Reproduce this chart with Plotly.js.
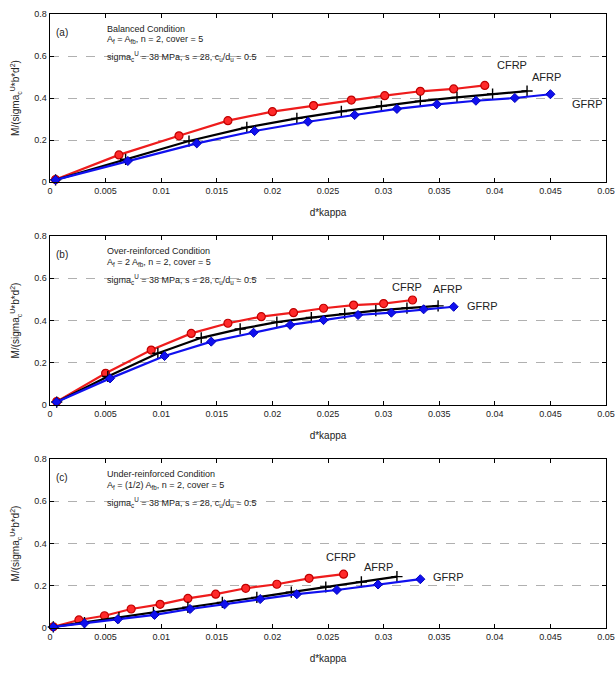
<!DOCTYPE html>
<html>
<head>
<meta charset="utf-8">
<script src="https://cdn.plot.ly/plotly-3.0.1.min.js"></script>
<style>html,body{margin:0;padding:0;background:#fff;}#chart{width:616px;height:677px;}</style>
</head>
<body>
<div id="chart"></div>
<script>
// Panel (a) Balanced
const kappaA_C = [0.0005,0.0062,0.0116,0.0160,0.0200,0.0237,0.0271,0.0301,0.0333,0.0363,0.0391];
const mA_C     = [0.012,0.129,0.220,0.292,0.335,0.364,0.390,0.411,0.432,0.443,0.460];
const kappaA_A = [0.0005,0.0068,0.0125,0.0177,0.0222,0.0262,0.0298,0.0333,0.0366,0.0398,0.0429];
const mA_A     = [0.010,0.108,0.195,0.260,0.303,0.336,0.362,0.385,0.403,0.419,0.433];
const kappaA_G = [0.0005,0.0070,0.0132,0.0184,0.0232,0.0274,0.0312,0.0348,0.0383,0.0418,0.0450];
const mA_G     = [0.010,0.100,0.184,0.243,0.287,0.319,0.348,0.370,0.387,0.400,0.418];
// Panel (b) Over-reinforced
const kappaB_C = [0.0006,0.0050,0.0091,0.0127,0.0160,0.0190,0.0219,0.0246,0.0273,0.0300,0.0326];
const mB_C     = [0.016,0.150,0.260,0.339,0.387,0.418,0.437,0.458,0.473,0.480,0.497];
const kappaB_A = [0.0006,0.0052,0.0097,0.0136,0.0171,0.0204,0.0235,0.0265,0.0293,0.0321,0.0349];
const mB_A     = [0.014,0.135,0.245,0.318,0.360,0.392,0.414,0.432,0.447,0.459,0.469];
const kappaB_G = [0.0006,0.0054,0.0103,0.0145,0.0183,0.0216,0.0246,0.0277,0.0307,0.0336,0.0363];
const mB_G     = [0.014,0.126,0.232,0.300,0.342,0.379,0.402,0.426,0.437,0.453,0.465];
// Panel (c) Under-reinforced
const kappaC_C = [0.0003,0.0026,0.0049,0.0073,0.0099,0.0124,0.0149,0.0176,0.0204,0.0233,0.0264];
const mC_C     = [0.006,0.038,0.058,0.090,0.112,0.140,0.160,0.188,0.207,0.235,0.255];
const kappaC_A = [0.0003,0.0031,0.0062,0.0093,0.0124,0.0155,0.0186,0.0217,0.0248,0.0280,0.0312];
const mC_A     = [0.005,0.026,0.049,0.073,0.098,0.121,0.145,0.170,0.194,0.218,0.243];
const kappaC_G = [0.0003,0.0031,0.0061,0.0094,0.0126,0.0157,0.0189,0.0222,0.0258,0.0295,0.0333];
const mC_G     = [0.005,0.022,0.041,0.062,0.090,0.112,0.137,0.160,0.180,0.206,0.231];

const xTickVals = [0,0.005,0.01,0.015,0.02,0.025,0.03,0.035,0.04,0.045,0.05];
const xTickText = ['0','0.005','0.01','0.015','0.02','0.025','0.03','0.035','0.04','0.045','0.05'];
const yTickVals = [0,0.2,0.4,0.6,0.8];
const yTickText = ['0','0.2','0.4','0.6','0.8'];

const panelLabels = ['(a)','(b)','(c)'];
const conditions = ['Balanced Condition','Over-reinforced Condition','Under-reinforced Condition'];
const areaLines = [
  'A<sub>f</sub> = A<sub>fb</sub>, n = 2, cover = 5',
  'A<sub>f</sub> = 2 A<sub>fb</sub>, n = 2, cover = 5',
  'A<sub>f</sub> = (1/2) A<sub>fb</sub>, n = 2, cover = 5'
];
const paramLine = 'sigma<sub>c</sub><sup>U</sup> = 38 MPa, s = 28, c<sub>u</sub>/d<sub>u</sub> = 0.5';
const materials = ['CFRP','AFRP','GFRP'];

const panels = [
  {C:[kappaA_C,mA_C], A:[kappaA_A,mA_A], G:[kappaA_G,mA_G],
   lab:{C:[0.0400,0.557], A:[0.0432,0.500], G:[0.0468,0.371]}},
  {C:[kappaB_C,mB_C], A:[kappaB_A,mB_A], G:[kappaB_G,mB_G],
   lab:{C:[0.0306,0.560], A:[0.0343,0.549], G:[0.0373,0.469]}},
  {C:[kappaC_C,mC_C], A:[kappaC_A,mC_A], G:[kappaC_G,mC_G],
   lab:{C:[0.0246,0.337], A:[0.0281,0.290], G:[0.0343,0.243]}}
];

const H = 677;
const tops = [14,236,459], bots = [182,405,628];
const font = {family:'Arial, Liberation Sans, sans-serif', size:9, color:'#222'};
const titleFont = {family:'Arial, Liberation Sans, sans-serif', size:10, color:'#222'};

const traces = [];
const annotations = [];
const layout = {
  width:616, height:677,
  margin:{l:50,r:10,t:0,b:0},
  paper_bgcolor:'#fff', plot_bgcolor:'#fff',
  showlegend:false, font:font
};

panels.forEach((p,i)=>{
  const sx = i===0?'':String(i+1);
  const xa = 'x'+sx, ya = 'y'+sx;
  const styles = {
    C:{color:'#ee1c1c', marker:{symbol:'circle', size:8, color:'#ff2a2a', line:{color:'#c00000',width:1.2}}},
    A:{color:'black', marker:{symbol:'cross-thin', size:8, color:'black', line:{color:'black',width:1.4}}},
    G:{color:'#1010ee', marker:{symbol:'diamond', size:7, color:'#1010ee', line:{color:'#0000c0',width:1}}}
  };
  ['C','A','G'].forEach(k=>{
    traces.push({
      x:p[k][0], y:p[k][1], xaxis:xa, yaxis:ya, type:'scatter', mode:'lines+markers',
      line:{color:styles[k].color, width:2.2}, marker:styles[k].marker, cliponaxis:false
    });
  });
  const dom = [1-bots[i]/H, 1-tops[i]/H];
  layout['xaxis'+sx] = {
    domain:[0,1], anchor:ya, range:[0,0.05], tickvals:xTickVals, ticktext:xTickText,
    ticks:'inside', ticklen:4, tickcolor:'#000', showline:true, linecolor:'#000', linewidth:1.4,
    mirror:'ticks', showgrid:false, zeroline:false, tickfont:font,
    title:{text:'d*kappa', font:titleFont, standoff:13}
  };
  layout['yaxis'+sx] = {
    domain:dom, anchor:xa, range:[0,0.8], tickvals:yTickVals, ticktext:yTickText,
    ticks:'inside', ticklen:4, tickcolor:'#000', showline:true, linecolor:'#000', linewidth:1.4,
    mirror:'ticks', showgrid:true, gridcolor:'#b0b0b0', griddash:'dash', gridwidth:1,
    zeroline:false, tickfont:font,
    title:{text:'M/(sigma<sub>c</sub><sup>U</sup>*b*d<sup>2</sup>)', font:titleFont, standoff:12}
  };
  const xd = xa+' domain', yd = ya+' domain';
  annotations.push({xref:xd, yref:yd, x:0.008, y:0.89, text:panelLabels[i], showarrow:false, xanchor:'left', yanchor:'middle', font:titleFont});
  annotations.push({xref:xd, yref:yd, x:0.099, y:1-15/168, text:conditions[i], showarrow:false, xanchor:'left', yanchor:'middle', font:font});
  annotations.push({xref:xd, yref:yd, x:0.099, y:1-26/168, text:areaLines[i], showarrow:false, xanchor:'left', yanchor:'middle', font:font});
  annotations.push({xref:xd, yref:yd, x:0.099, y:1-43/168, text:paramLine, showarrow:false, xanchor:'left', yanchor:'middle', font:font});
  ['C','A','G'].forEach((k,j)=>{
    annotations.push({xref:xa, yref:ya, x:p.lab[k][0], y:p.lab[k][1], text:materials[j], showarrow:false,
      xanchor:'left', yanchor:'middle', font:{family:font.family, size:11, color:'#222'}});
  });
});
layout.annotations = annotations;

Plotly.newPlot('chart', traces, layout, {staticPlot:true, displayModeBar:false});
</script>
</body>
</html>
